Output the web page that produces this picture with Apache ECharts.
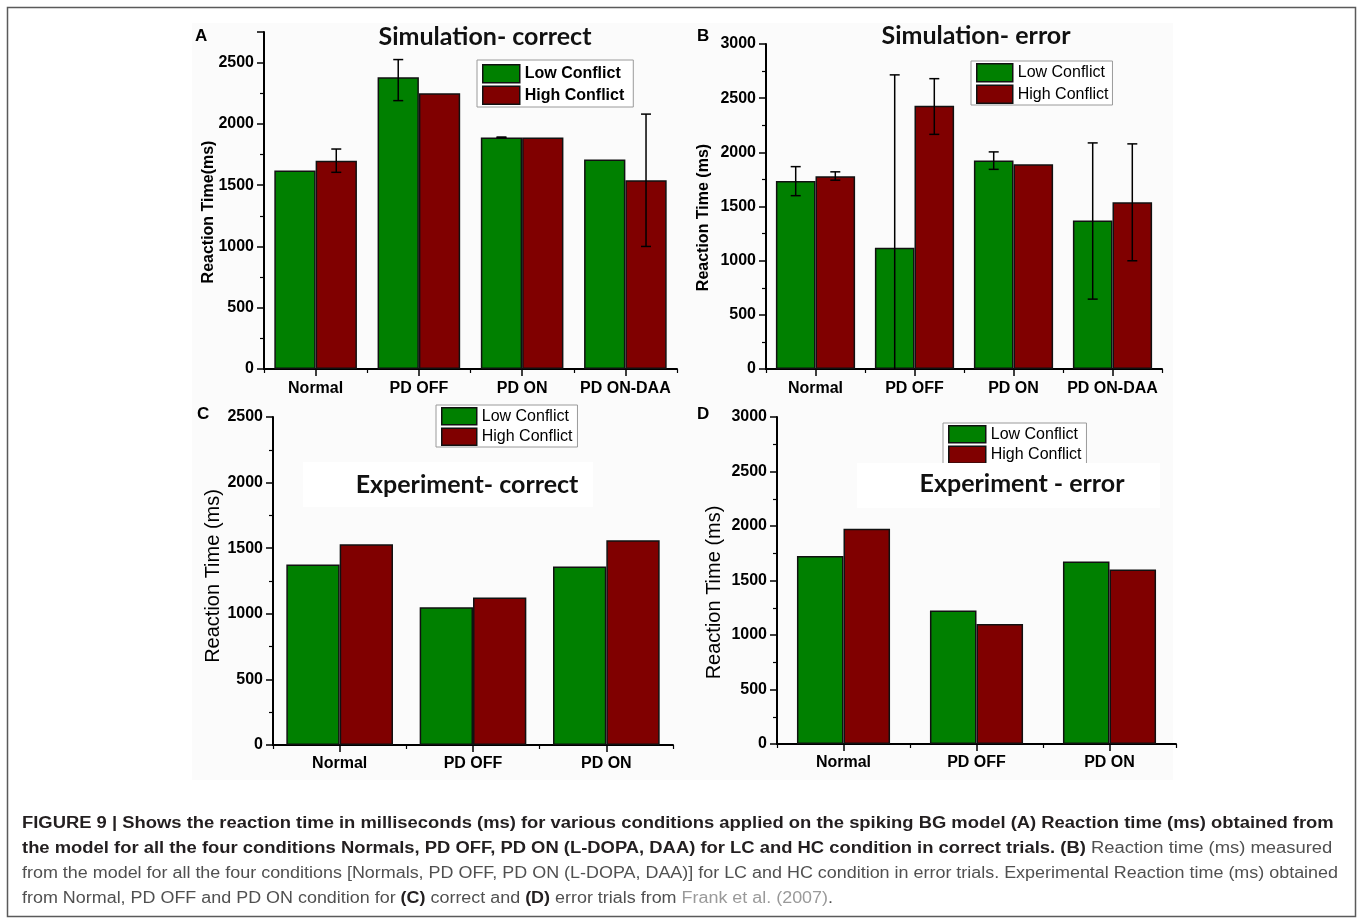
<!DOCTYPE html>
<html><head><meta charset="utf-8">
<script src="https://cdn.jsdelivr.net/npm/echarts@6/dist/echarts.min.js"></script>
<style>html,body{margin:0;padding:0;background:#fff}#c{width:1357px;height:918px}</style>
</head><body><div id="c"></div>
<script>
// ---------- DATA ----------
const simCategories = ['Normal', 'PD OFF', 'PD ON', 'PD ON-DAA'];
const expCategories = ['Normal', 'PD OFF', 'PD ON'];
const seriesNames = ['Low Conflict', 'High Conflict'];

// A: Simulation - correct
const simCorrectLC = [1620, 2380, 1890, 1710];
const simCorrectHC = [1700, 2250, 1890, 1540];
const simCorrectLCErr = [null, [2190, 2525], [1887, 1893], null];
const simCorrectHCErr = [[1605, 1795], null, null, [1000, 2080]];
const simCorrectYMax = 2750;

// B: Simulation - error
const simErrorLC = [1735, 1120, 1925, 1370];
const simErrorHC = [1780, 2430, 1890, 1540];
const simErrorLCErr = [[1600, 1868], [-475, 2715], [1843, 2004], [645, 2087]];
const simErrorHCErr = [[1743, 1820], [2166, 2680], null, [999, 2078]];
const simErrorYMax = 3000;

// C: Experiment - correct
const expCorrectLC = [1375, 1050, 1360];
const expCorrectHC = [1530, 1125, 1560];
const expCorrectYMax = 2500;

// D: Experiment - error
const expErrorLC = [1725, 1225, 1675];
const expErrorHC = [1975, 1100, 1600];
const expErrorYMax = 3000;

const yInterval = 500;

const panelTitles = ['Simulation- correct', 'Simulation- error', 'Experiment- correct', 'Experiment - error'];
const panelLetters = ['A', 'B', 'C', 'D'];
const yNames = ['Reaction Time(ms)', 'Reaction Time (ms)', 'Reaction Time (ms)', 'Reaction Time (ms)'];

const captionLines = [
  [['b', 'FIGURE 9 | Shows the reaction time in milliseconds (ms) for various conditions applied on the spiking BG model (A) Reaction time (ms) obtained from']],
  [['b', 'the model for all the four conditions Normals, PD OFF, PD ON (L-DOPA, DAA) for LC and HC condition in correct trials. (B)'], ['r', ' Reaction time (ms) measured']],
  [['r', 'from the model for all the four conditions [Normals, PD OFF, PD ON (L-DOPA, DAA)] for LC and HC condition in error trials. Experimental Reaction time (ms) obtained']],
  [['r', 'from Normal, PD OFF and PD ON condition for '], ['b', '(C)'], ['r', ' correct and '], ['b', '(D)'], ['r', ' error trials from '], ['l', 'Frank et al. (2007)'], ['r', '.']]
];

// ---------- STYLE / LAYOUT ----------
const FONT = '"Liberation Sans", Arial, Helvetica, sans-serif';
const TITLE_FONT = 'Lato, "Open Sans", sans-serif';
const GREEN = '#008000', RED = '#800000';

const panels = [
  { cats: simCategories, lc: simCorrectLC, hc: simCorrectHC, lcErr: simCorrectLCErr, hcErr: simCorrectHCErr, yMax: simCorrectYMax,
    grid: { left: 264, top: 32, width: 413, height: 337 }, gap: 0.2, labelMargin: 12,
    nameBold: true, nameSize: 16, nameGap: 47, namePad: [0, 23, 0, 0],
    legend: { left: 477, top: 60, padding: [4, 9, 2, 5], bold: true, w: 37, h: 18 },
    title: { x: 485, y: 37 }, letter: { x: 195, y: 36 } },
  { cats: simCategories, lc: simErrorLC, hc: simErrorHC, lcErr: simErrorLCErr, hcErr: simErrorHCErr, yMax: simErrorYMax,
    grid: { left: 766, top: 44, width: 396, height: 325 }, gap: 0.2, labelMargin: 12,
    nameBold: true, nameSize: 16, nameGap: 54, namePad: [0, 22, 0, 0],
    legend: { left: 971, top: 61, padding: [2, 4, 1, 5], bold: false, w: 36, h: 18 },
    title: { x: 976, y: 36 }, letter: { x: 697, y: 36 } },
  { cats: expCategories, lc: expCorrectLC, hc: expCorrectHC, lcErr: null, hcErr: null, yMax: expCorrectYMax,
    grid: { left: 273, top: 417, width: 400, height: 328 }, gap: 0.2, labelMargin: 11,
    nameBold: false, nameSize: 20, nameGap: 50, namePad: [0, 0, 0, 10],
    legend: { left: 436, top: 405, padding: [2, 5, 1, 5], bold: false, w: 35, h: 17 },
    title: { x: 467, y: 485 }, letter: { x: 197, y: 414 }, box: [303, 462, 290, 45] },
  { cats: expCategories, lc: expErrorLC, hc: expErrorHC, lcErr: null, hcErr: null, yMax: expErrorYMax,
    grid: { left: 777, top: 417, width: 399, height: 327 }, gap: 0.3, labelMargin: 11,
    nameBold: false, nameSize: 20, nameGap: 53, namePad: [0, 24, 0, 0],
    legend: { left: 943, top: 423, padding: [2, 5, 2, 5], bold: false, w: 37, h: 17 },
    title: { x: 1022, y: 484 }, letter: { x: 697, y: 414 }, box: [857, 463, 303, 45] }
];

function errorRender(sign, gapFrac) {
  return function (params, api) {
    const idx = api.value(0), lo = api.value(1), hi = api.value(2);
    const band = api.size([1, 0])[0];
    const barW = band * (1 - gapFrac) / 2;
    const cx = api.coord([idx, 0])[0] + sign * barW / 2;
    const cs = params.coordSys;
    const bottom = cs.y + cs.height;
    const yHi = api.coord([idx, hi])[1];
    let yLo = api.coord([idx, lo])[1];
    const clipped = yLo > bottom;
    if (clipped) yLo = bottom;
    const cap = 5;
    const st = { stroke: '#000', lineWidth: 1.5 };
    const children = [
      { type: 'line', shape: { x1: cx, y1: yHi, x2: cx, y2: yLo }, style: st },
      { type: 'line', shape: { x1: cx - cap, y1: yHi, x2: cx + cap, y2: yHi }, style: st }
    ];
    if (!clipped) children.push({ type: 'line', shape: { x1: cx - cap, y1: yLo, x2: cx + cap, y2: yLo }, style: st });
    return { type: 'group', children };
  };
}

const grids = [], xAxes = [], yAxes = [], series = [], legends = [];
const graphics = [];

// frame and panel background
graphics.push({ type: 'rect', shape: { x: 7.5, y: 7.5, width: 1348, height: 909 }, style: { fill: '#fff', stroke: '#5a5a5a', lineWidth: 1.5 }, z: -5 });
graphics.push({ type: 'rect', shape: { x: 192, y: 23, width: 981, height: 757 }, style: { fill: '#fbfbfb' }, z: -4 });

panels.forEach((p, i) => {
  grids.push(Object.assign({ containLabel: false }, p.grid));
  const axLabel = { show: true, interval: 0, margin: p.labelMargin, color: '#000', fontFamily: FONT, fontWeight: 'bold', fontSize: 16 };
  xAxes.push({ type: 'category', gridIndex: i, data: p.cats,
    axisLine: { show: true, lineStyle: { color: '#000', width: 2 } },
    axisTick: { show: true, alignWithLabel: true, length: 7, lineStyle: { color: '#000', width: 1.5 } },
    axisLabel: axLabel, splitLine: { show: false } });
  yAxes.push({ type: 'value', gridIndex: i, min: 0, max: p.yMax, interval: yInterval,
    name: yNames[i], nameLocation: 'middle', nameGap: p.nameGap, nameRotate: 90, nameMoveOverlap: false,
    nameTextStyle: { color: '#000', fontFamily: FONT, fontWeight: p.nameBold ? 'bold' : 'normal', fontSize: p.nameSize, padding: p.namePad },
    axisLine: { show: true, lineStyle: { color: '#000', width: 2 } },
    axisTick: { show: true, length: 7, lineStyle: { color: '#000', width: 1.5 } },
    minorTick: { show: true, splitNumber: 2, length: 4, lineStyle: { color: '#000', width: 1.2 } },
    axisLabel: { show: true, margin: 10, color: '#000', fontFamily: FONT, fontWeight: 'bold', fontSize: 16,
      formatter: v => (v % yInterval === 0 ? String(v) : '') },
    splitLine: { show: false } });
});
// secondary x axes for boundary ticks
panels.forEach((p, i) => {
  xAxes.push({ type: 'category', gridIndex: i, data: p.cats, position: 'bottom',
    axisLine: { show: false }, axisLabel: { show: false },
    axisTick: { show: true, alignWithLabel: false, length: 4, lineStyle: { color: '#000', width: 1.2 } },
    splitLine: { show: false } });
});

panels.forEach((p, i) => {
  const gapPct = Math.round(p.gap * 100) + '%';
  [[p.lc, GREEN, 0], [p.hc, RED, 1]].forEach(([vals, col, k]) => {
    series.push({ type: 'bar', name: seriesNames[k], xAxisIndex: i, yAxisIndex: i, data: vals,
      barGap: '0%', barCategoryGap: gapPct, animation: false,
      itemStyle: { color: col, borderColor: '#111', borderWidth: 1.5 } });
  });
  [[p.lcErr, -1], [p.hcErr, 1]].forEach(([errs, sign]) => {
    if (!errs) return;
    const data = errs.map((e, j) => (e ? [j, e[0], e[1]] : null)).filter(Boolean);
    series.push({ type: 'custom', xAxisIndex: i, yAxisIndex: i, z: 5, silent: true, animation: false,
      renderItem: errorRender(sign, p.gap), data: data, encode: { x: 0, y: [1, 2] } });
  });
  const L = p.legend;
  legends.push({ data: seriesNames, orient: 'vertical', left: L.left, top: L.top, padding: L.padding,
    itemGap: 2, itemWidth: L.w, itemHeight: L.h, icon: 'rect', selectedMode: false, z: 4,
    backgroundColor: '#fff', borderColor: '#9a9a9a', borderWidth: 1,
    itemStyle: { borderColor: '#111', borderWidth: 1.5 },
    textStyle: { color: '#000', fontFamily: FONT, fontSize: 16, fontWeight: L.bold ? 'bold' : 'normal', padding: [0, 0, 0, 0] } });

  if (p.box) {
    graphics.push({ type: 'rect', z: 10, shape: { x: p.box[0], y: p.box[1], width: p.box[2], height: p.box[3] }, style: { fill: '#fff' } });
  }
  graphics.push({ type: 'text', z: 11, x: p.title.x, y: p.title.y,
    style: { text: panelTitles[i], fill: '#111', font: 'bold 25px ' + TITLE_FONT, textAlign: 'center', textVerticalAlign: 'middle' } });
  graphics.push({ type: 'text', z: 11, x: p.letter.x, y: p.letter.y,
    style: { text: panelLetters[i], fill: '#000', font: 'bold 17px ' + FONT, textAlign: 'left', textVerticalAlign: 'middle' } });
});

// caption
const capStyles = {
  b: { weight: 'bold', color: '#231f20' },
  r: { weight: 'normal', color: '#505050' },
  l: { weight: 'normal', color: '#9a9a9a' }
};
const CAP_SIZE = 16;
const cnv = document.createElement('canvas').getContext('2d');
const capTargets = [1316, 1316, 1316, 811];
const capY = [824, 849, 874, 899];
captionLines.forEach((segs, li) => {
  let w = 0;
  segs.forEach(([k, t]) => { cnv.font = capStyles[k].weight + ' ' + CAP_SIZE + 'px ' + FONT; w += cnv.measureText(t).width; });
  let sx = capTargets[li] / w;
  sx = Math.max(0.85, Math.min(1.15, sx));
  const rich = {};
  Object.keys(capStyles).forEach(k => { rich[k] = { fill: capStyles[k].color, fontWeight: capStyles[k].weight, fontSize: CAP_SIZE, fontFamily: FONT }; });
  graphics.push({ type: 'text', x: 22, y: capY[li], scaleX: sx, z: 11,
    style: { text: segs.map(([k, t]) => '{' + k + '|' + t + '}').join(''), rich: rich, textAlign: 'left', textVerticalAlign: 'middle' } });
});

const chart = echarts.init(document.getElementById('c'), null, { renderer: 'canvas' });
chart.setOption({
  animation: false,
  backgroundColor: '#fff',
  grid: grids, xAxis: xAxes, yAxis: yAxes, series: series, legend: legends,
  graphic: { elements: graphics }
});
</script></body></html>
